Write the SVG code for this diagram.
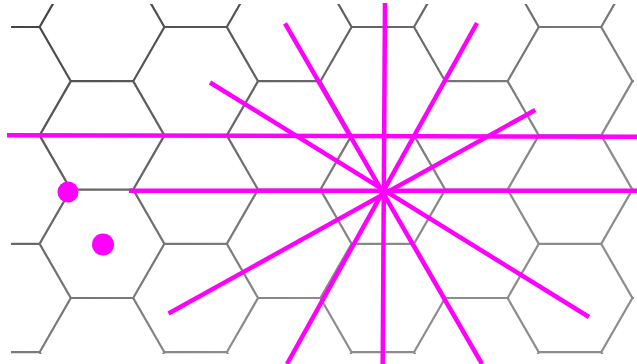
<svg xmlns="http://www.w3.org/2000/svg" width="637" height="364" viewBox="0 0 637 364">
  <defs>
    <linearGradient id="gridGrad" gradientUnits="userSpaceOnUse" x1="0" y1="0" x2="200" y2="364">
      <stop offset="0" stop-color="#3e3e3e"/>
      <stop offset="1" stop-color="#8c8c8c"/>
    </linearGradient>
    <clipPath id="gridClip">
      <rect x="11" y="4" width="623" height="350"/>
    </clipPath>
  </defs>
  <style>
    .grid { fill: none; stroke: url(#gridGrad); stroke-width: 2.2; stroke-linejoin: miter; }
    .ray { stroke: #f0f; stroke-width: 4.5; stroke-linecap: butt; fill: none; }
    .dot { fill: #f0f; }
  </style>
  <rect width="637" height="364" fill="#fff"/>
  <g id="hex-grid" clip-path="url(#gridClip)">
    <path class="grid" d="
      M39.6 27 l31.2 -54.2 h62.4 l31.2 54.2 l-31.2 54.2 h-62.4 z
      M39.6 135.4 l31.2 -54.2 h62.4 l31.2 54.2 l-31.2 54.2 h-62.4 z
      M39.6 243.8 l31.2 -54.2 h62.4 l31.2 54.2 l-31.2 54.2 h-62.4 z
      M39.6 352.2 l31.2 -54.2 h62.4 l31.2 54.2 l-31.2 54.2 h-62.4 z
      M226.8 27 l31.2 -54.2 h62.4 l31.2 54.2 l-31.2 54.2 h-62.4 z
      M226.8 135.4 l31.2 -54.2 h62.4 l31.2 54.2 l-31.2 54.2 h-62.4 z
      M226.8 243.8 l31.2 -54.2 h62.4 l31.2 54.2 l-31.2 54.2 h-62.4 z
      M226.8 352.2 l31.2 -54.2 h62.4 l31.2 54.2 l-31.2 54.2 h-62.4 z
      M414 27 l31.2 -54.2 h62.4 l31.2 54.2 l-31.2 54.2 h-62.4 z
      M414 135.4 l31.2 -54.2 h62.4 l31.2 54.2 l-31.2 54.2 h-62.4 z
      M414 243.8 l31.2 -54.2 h62.4 l31.2 54.2 l-31.2 54.2 h-62.4 z
      M414 352.2 l31.2 -54.2 h62.4 l31.2 54.2 l-31.2 54.2 h-62.4 z
      M601.2 27 l31.2 -54.2 h62.4 l31.2 54.2 l-31.2 54.2 h-62.4 z
      M601.2 135.4 l31.2 -54.2 h62.4 l31.2 54.2 l-31.2 54.2 h-62.4 z
      M601.2 243.8 l31.2 -54.2 h62.4 l31.2 54.2 l-31.2 54.2 h-62.4 z
      M601.2 352.2 l31.2 -54.2 h62.4 l31.2 54.2 l-31.2 54.2 h-62.4 z
      M-54 81.2 l31.2 -54.2 h62.4 l31.2 54.2 l-31.2 54.2 h-62.4 z
      M-54 189.6 l31.2 -54.2 h62.4 l31.2 54.2 l-31.2 54.2 h-62.4 z
      M-54 298 l31.2 -54.2 h62.4 l31.2 54.2 l-31.2 54.2 h-62.4 z
      M133.2 81.2 l31.2 -54.2 h62.4 l31.2 54.2 l-31.2 54.2 h-62.4 z
      M133.2 189.6 l31.2 -54.2 h62.4 l31.2 54.2 l-31.2 54.2 h-62.4 z
      M133.2 298 l31.2 -54.2 h62.4 l31.2 54.2 l-31.2 54.2 h-62.4 z
      M320.4 81.2 l31.2 -54.2 h62.4 l31.2 54.2 l-31.2 54.2 h-62.4 z
      M320.4 189.6 l31.2 -54.2 h62.4 l31.2 54.2 l-31.2 54.2 h-62.4 z
      M320.4 298 l31.2 -54.2 h62.4 l31.2 54.2 l-31.2 54.2 h-62.4 z
      M507.6 81.2 l31.2 -54.2 h62.4 l31.2 54.2 l-31.2 54.2 h-62.4 z
      M507.6 189.6 l31.2 -54.2 h62.4 l31.2 54.2 l-31.2 54.2 h-62.4 z
      M507.6 298 l31.2 -54.2 h62.4 l31.2 54.2 l-31.2 54.2 h-62.4 z"/>
  </g>
  <g id="lines">
    <line class="ray" x1="7" y1="135.2" x2="637" y2="136.8"/>
    <line class="ray" x1="129" y1="190.8" x2="637" y2="190.8"/>
    <line class="ray" x1="385" y1="3" x2="382.7" y2="364"/>
    <line class="ray" x1="210" y1="82.5" x2="589" y2="317"/>
    <line class="ray" x1="285" y1="23.3" x2="482" y2="364"/>
    <line class="ray" x1="477" y1="23" x2="287" y2="364"/>
    <line class="ray" x1="535.3" y1="110" x2="168.5" y2="313.5"/>
  </g>
  <g id="dots">
    <circle class="dot" cx="68" cy="192" r="10.5"/>
    <circle class="dot" cx="103" cy="244.5" r="11"/>
  </g>
</svg>
